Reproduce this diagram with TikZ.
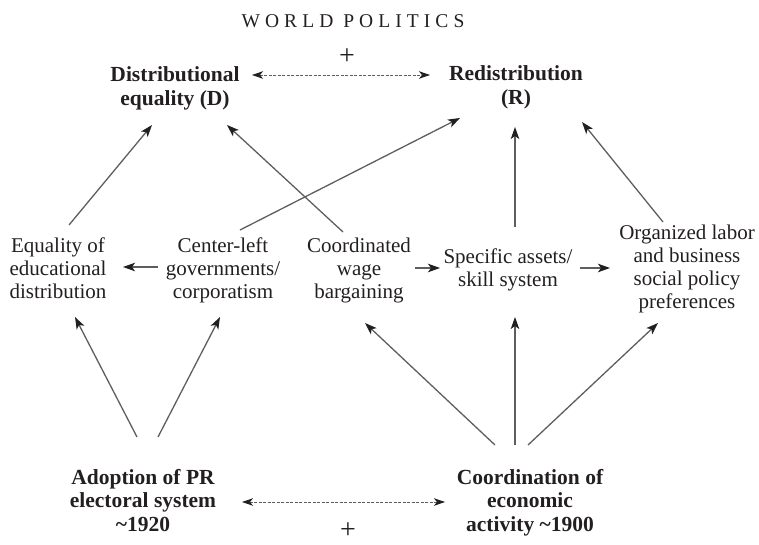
\documentclass[tikz,border=0pt]{standalone}
\usepackage{fontspec}
\setmainfont{Liberation Serif}
\usetikzlibrary{arrows.meta,calc}
\definecolor{ink}{HTML}{231F20}
\definecolor{wire}{HTML}{5E5E5E}
\tikzset{
  reg/.style={align=center,anchor=north,inner sep=0pt,text=ink,font=\fontsize{21}{23}\selectfont},
  bld/.style={align=center,anchor=north,inner sep=0pt,text=ink,font=\fontsize{21.5}{23.5}\selectfont\bfseries},
  arr/.style={draw=wire,line width=1.3pt,-{Stealth[length=12pt,width=8.5pt,inset=3pt,color=ink]}},
  dbl/.style={draw=wire,line width=0.9pt,dash pattern=on 3pt off 1.5pt,
    {Stealth[length=11pt,width=7.5pt,inset=3pt,color=ink]}-{Stealth[length=11pt,width=7.5pt,inset=3pt,color=ink]}},
  plus/.style={inner sep=0pt,text=ink,font=\fontsize{28}{28}\selectfont}
}
\begin{document}
\begin{tikzpicture}[x=1pt,y=-1pt]
\useasboundingbox (0,0) rectangle (759,545);
\node[inner sep=0pt,text=ink,font=\fontsize{19.5}{20}\selectfont\addfontfeature{LetterSpace=26}] (title) at (353,21.5) {WORLD POLITICS};
\node[plus] (ptop) at (347,57) {+};
\node[plus] (pbot) at (348,531) {+};

\node[bld] (D) at (175,66.8) {Distributional\\equality (D)};
\node[bld] (R) at (516,65.8) {Redistribution\\(R)};

\node[reg] (EQ) at (58,237.7) {Equality of\\educational\\distribution};
\node[reg] (CL) at (223,237.7) {Center-left\\governments/\\corporatism};
\node[reg] (CW) at (359,237.7) {Coordinated\\wage\\bargaining};
\node[reg] (SA) at (508,248.7) {Specific assets/\\skill system};
\node[reg] (OL) at (687,224.7) {Organized labor\\and business\\social policy\\preferences};

\node[bld] (AD) at (143,468.8) {Adoption of PR\\electoral system\\\char`~1920};
\node[bld] (CO) at (530,468.8) {Coordination of\\economic\\activity \char`~1900};

% upward arrows
\draw[arr] ($(EQ.north)+(11,-12.7)$) -- ($(D.north)+(-23,58.2)$);
\draw[arr] ($(CW.north)+(-16,-5.7)$) -- ($(D.north)+(52,58.2)$);
\draw[arr] ($(CL.north)+(17,-7.7)$) -- ($(R.north)+(-56,52.2)$);
\draw[arr] ($(SA.north)+(7,-21.7)$) -- ($(R.north)+(-1,61.2)$);
\draw[arr] ($(OL.north)+(-24,-2.7)$) -- ($(R.north)+(66,56.2)$);
% horizontal arrows
\draw[arr] ($(CL.north)+(-65,29.3)$) -- ($(EQ.north)+(65,29.3)$);
\draw[arr] ($(CW.north)+(56,30.3)$) -- ($(SA.north)+(-68,19.3)$);
\draw[arr] ($(SA.north)+(72,19.3)$) -- ($(OL.north)+(-77,43.3)$);
% from bottom
\draw[arr] ($(AD.north)+(-6,-31.8)$) -- ($(EQ.north)+(17,79.3)$);
\draw[arr] ($(AD.north)+(15,-31.8)$) -- ($(CL.north)+(-3,79.3)$);
\draw[arr] ($(CO.north)+(-35,-23.8)$) -- ($(CW.north)+(6,85.3)$);
\draw[arr] ($(CO.north)+(-15,-23.8)$) -- ($(SA.north)+(7,68.3)$);
\draw[arr] ($(CO.north)+(-2,-23.8)$) -- ($(OL.north)+(-29,98.3)$);
% dashed double arrows
\draw[dbl] ($(D.north)+(77,8.2)$) -- ($(R.north)+(-86,9.2)$);
\draw[dbl] ($(AD.north)+(99,33.2)$) -- ($(CO.north)+(-85,33.2)$);
\end{tikzpicture}
\end{document}
